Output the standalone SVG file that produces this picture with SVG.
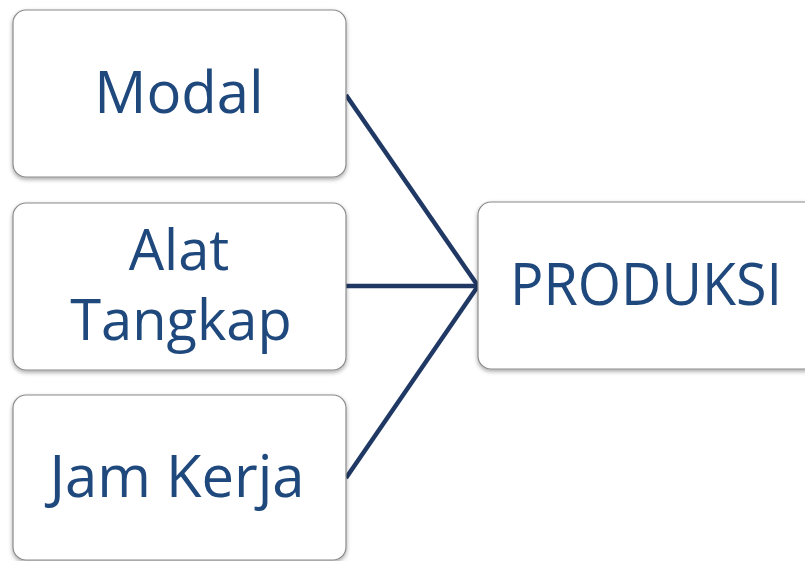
<svg xmlns="http://www.w3.org/2000/svg" width="805" height="561" viewBox="0 0 805 561">
<defs>
<filter id="sh" x="-10%" y="-10%" width="120%" height="130%">
<feDropShadow dx="0" dy="2" stdDeviation="2" flood-color="#000" flood-opacity="0.35"/>
</filter>
</defs>
<style>
.box{fill:#fff;stroke:#8a8a8a;stroke-width:1.2;filter:url(#sh)}
.t{font-family:"Open Sans","Noto Sans",sans-serif;font-size:58px;fill:#1f497d;text-anchor:middle}
.s{font-size:56px}
.c{stroke:#1f3864;stroke-width:4.5;fill:none;stroke-linejoin:miter}
</style>
<rect width="805" height="561" fill="#fff"/>
<g id="connectors">
<path class="c" d="M346,95 L478,286"/>
<path class="c" d="M346,286 L478,286"/>
<path class="c" d="M346,478 L478,286"/>
</g>
<g id="modal">
<rect class="box" x="13" y="10" width="333" height="167" rx="13"/>
<text class="t" x="179" y="113">Modal</text>
</g>
<g id="alat">
<rect class="box" x="13" y="203" width="333" height="167" rx="13"/>
<text class="t s" x="179" y="270">Alat</text>
<text class="t s" x="181" y="340">Tangkap</text>
</g>
<g id="jam">
<rect class="box" x="13" y="395" width="333" height="165" rx="13"/>
<text class="t" x="177" y="497">Jam Kerja</text>
</g>
<g id="produksi">
<rect class="box" x="478" y="202" width="340" height="167" rx="13"/>
<text class="t" x="646" y="305" textLength="272" lengthAdjust="spacingAndGlyphs">PRODUKSI</text>
</g>
</svg>
